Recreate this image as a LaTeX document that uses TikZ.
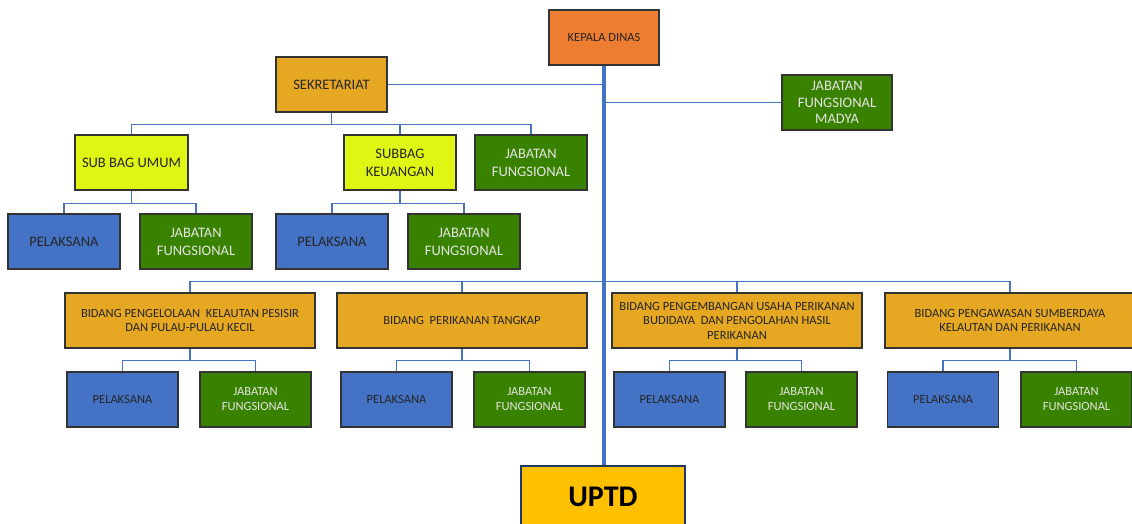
\documentclass[tikz,border=0pt]{standalone}
\usepackage{fontspec}
\setmainfont{Carlito}
\definecolor{orng}{HTML}{ED7D31}
\definecolor{gold}{HTML}{E6A823}
\definecolor{lime}{HTML}{DFF514}
\definecolor{grn}{HTML}{388200}
\definecolor{blu}{HTML}{4472C4}
\definecolor{upt}{HTML}{FFC000}
\definecolor{navy}{HTML}{1F3864}
\definecolor{txt}{HTML}{262626}
\tikzset{
  box/.style={draw=black!80, line width=1.1pt, minimum width=112pt, minimum height=55pt,
    align=center, inner sep=1pt, text=txt, font=\fontsize{14.5}{18}\selectfont},
  org/.style={box, fill=orng, minimum width=110pt, font=\fontsize{12.5}{15}\selectfont},
  gld/.style={box, fill=gold},
  lim/.style={box, fill=lime},
  gbox/.style={box, fill=grn, text=white!90!black},
  bbox/.style={box, fill=blu},
  bid/.style={box, fill=gold, minimum width=250pt, font=\fontsize{12.5}{14.5}\selectfont},
  sbb/.style={box, fill=blu, minimum width=111pt, font=\fontsize{12.5}{15}\selectfont},
  sbg/.style={box, fill=grn, minimum width=111pt, text=white!90!black, font=\fontsize{12.5}{15}\selectfont},
  conn/.style={draw=blu, line width=1.3pt},
  trunk/.style={draw=blu, line width=4pt},
}
\begin{document}
\begin{tikzpicture}[x=1pt,y=-1pt]
\useasboundingbox (0,0) rectangle (1132,524);
\clip (0,0) rectangle (1132,524);
% top
\node[org] (kd) at (604,37.5) {KEPALA DINAS};
\node[gld, minimum width=111pt] (sek) at (331.5,84.5) {SEKRETARIAT};
\node[gbox, minimum width=110pt, font=\fontsize{14.5}{16.5}\selectfont] (jfm) at (837,102.5) {JABATAN\\FUNGSIONAL\\MADYA};
% sekretariat row
\node[lim, minimum width=113pt] (sbu) at (131.5,162.5) {SUB BAG UMUM};
\node[lim] (sbk) at (400,162.5) {SUBBAG\\KEUANGAN};
\node[gbox] (jfs) at (531,162.5) {JABATAN\\FUNGSIONAL};
\node[bbox] (p1) at (64,241.5) {PELAKSANA};
\node[gbox] (j1) at (196,241.5) {JABATAN\\FUNGSIONAL};
\node[bbox] (p2) at (332,241.5) {PELAKSANA};
\node[gbox] (j2) at (464,241.5) {JABATAN\\FUNGSIONAL};
% bidang row
\node[bid] (b1) at (190,320.5) {BIDANG PENGELOLAAN\ \ KELAUTAN PESISIR\\DAN PULAU-PULAU KECIL};
\node[bid] (b2) at (462,320.5) {BIDANG\ \ PERIKANAN TANGKAP};
\node[bid] (b3) at (737,320.5) {BIDANG PENGEMBANGAN USAHA PERIKANAN\\BUDIDAYA\ \ DAN PENGOLAHAN HASIL\\PERIKANAN};
\node[bid] (b4) at (1010,320.5) {BIDANG PENGAWASAN SUMBERDAYA\\KELAUTAN DAN PERIKANAN};
\node[sbb] (p3) at (122.5,399.5) {PELAKSANA};
\node[sbg] (j3) at (255.5,399.5) {JABATAN\\FUNGSIONAL};
\node[sbb] (p4) at (396.5,399.5) {PELAKSANA};
\node[sbg] (j4) at (529.5,399.5) {JABATAN\\FUNGSIONAL};
\node[sbb] (p5) at (669.5,399.5) {PELAKSANA};
\node[sbg] (j5) at (801.5,399.5) {JABATAN\\FUNGSIONAL};
\node[sbb] (p6) at (943,399.5) {PELAKSANA};
\node[sbg] (j6) at (1076.5,399.5) {JABATAN\\FUNGSIONAL};
% UPTD
\node[box, fill=upt, draw=navy, line width=2pt, minimum width=164pt, minimum height=62pt, anchor=north, text=black, font=\fontsize{30}{34}\selectfont\bfseries] (uptd) at (603,465) {UPTD};
% connectors
\path[conn] (sek.east) -- (sek.east -| kd.south);
\path[conn] (jfm.west) -- (jfm.west -| kd.south);
\path[conn] (sek.south) -- ++(0,12) coordinate (s1);
\path[conn] (sbu.north) |- (s1) -| (jfs.north);
\path[conn] (s1) -| (sbk.north);
\path[conn] (sbu.south) -- ++(0,13) coordinate (s2);
\path[conn] (p1.north) |- (s2) -| (j1.north);
\path[conn] (sbk.south) -- ++(0,13) coordinate (s3);
\path[conn] (p2.north) |- (s3) -| (j2.north);
\path[conn] (b1.north) -- ++(0,-11) coordinate (bh) -| (b4.north);
\path[conn] (b2.north) -- (b2.north |- bh);
\path[conn] (b3.north) -- (b3.north |- bh);
\foreach \b/\p/\j in {b1/p3/j3, b2/p4/j4, b3/p5/j5, b4/p6/j6}{
  \path[conn] (\b.south) -- ++(0,12) coordinate (t);
  \path[conn] (\p.north) |- (t) -| (\j.north);
}
\path[trunk] (kd.south) -- (kd.south |- uptd.north);
\end{tikzpicture}
\end{document}
